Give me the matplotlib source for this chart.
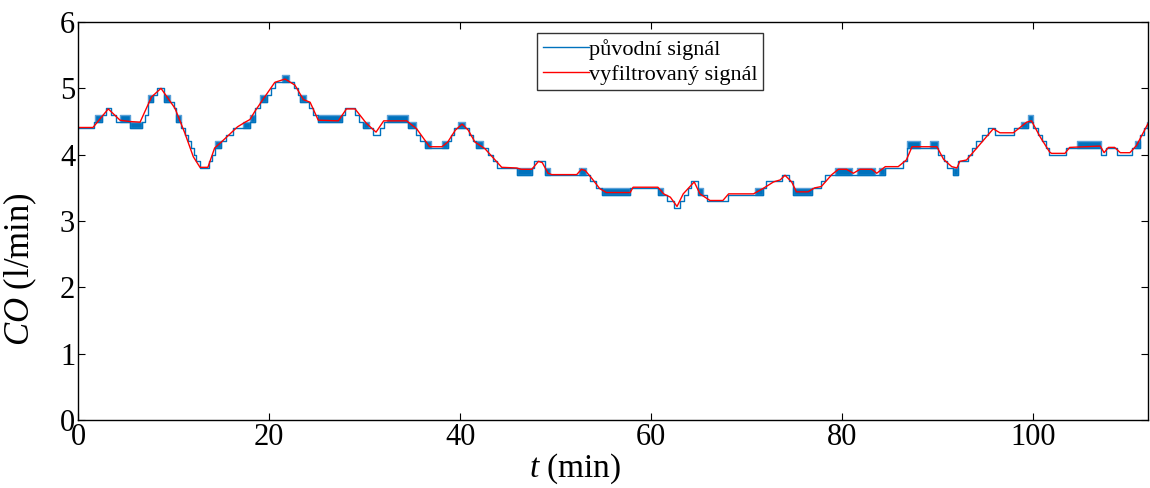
import numpy as np
import matplotlib
matplotlib.use('Agg')
import matplotlib.pyplot as plt

plt.rcParams['font.family'] = ['Liberation Serif', 'DejaVu Serif']
plt.rcParams['mathtext.fontset'] = 'custom'
plt.rcParams['mathtext.it'] = 'Liberation Serif:italic'
plt.rcParams['mathtext.rm'] = 'Liberation Serif'

# original (quantised) signal: segment start time (min) and level (l/min)
blue_t = [0, 1.7, 1.8, 2.5, 2.9, 3.5, 4.0, 4.4, 5.45, 6.67, 7.0, 7.3, 7.9, 8.3,
          9.0, 9.6, 10.0, 10.3, 10.8, 11.2, 11.5, 11.8, 12.1, 12.4, 12.8, 13.7,
          14.0, 14.3, 15.0, 15.5, 16.2, 17.3, 18.0, 18.5, 19.05, 19.75, 20.2,
          20.6, 21.4, 22.1, 22.6, 23.0, 23.2, 23.9, 24.2, 24.6, 25.15, 27.6,
          28.0, 29.0, 29.4, 29.8, 30.5, 30.9, 31.6, 32.0, 32.3, 34.55, 35.4,
          35.8, 36.3, 37.0, 38.1, 38.75, 39.0, 39.4, 39.8, 40.5, 40.9, 41.3,
          41.7, 42.4, 42.9, 43.4, 43.9, 45.9, 47.5, 47.7, 48.9, 49.4, 52.4,
          53.2, 53.6, 54.2, 54.8, 57.8, 60.7, 61.2, 61.6, 62.4, 63.0, 63.4,
          63.8, 64.2, 64.9, 65.4, 65.8, 68.0, 70.9, 71.7, 72.0, 73.7, 74.4,
          74.8, 76.8, 77.8, 78.2, 79.2, 81.0, 81.5, 83.4, 83.8, 84.5, 86.3,
          86.8, 88.1, 89.2, 90.0, 90.6, 91.0, 91.6, 92.15, 93.2, 93.6, 94.0,
          94.6, 95.2, 96.0, 98.0, 98.7, 99.4, 100.0, 100.5, 100.9, 101.3,
          101.6, 103.4, 104.6, 107.1, 107.6, 108.8, 110.3, 110.6, 111.2,
          111.6, 111.9, 112.0]
blue_lvl = [4.4, 4.5, 4.5, 4.6, 4.7, 4.6, 4.5, 4.5, 4.4, 4.5, 4.6, 4.8, 4.9,
            5.0, 4.8, 4.8, 4.7, 4.5, 4.4, 4.3, 4.2, 4.1, 4.0, 3.9, 3.8, 3.9,
            4.0, 4.1, 4.2, 4.3, 4.4, 4.4, 4.5, 4.7, 4.8, 4.9, 5.0, 5.1, 5.1,
            5.1, 5.0, 4.9, 4.8, 4.8, 4.7, 4.6, 4.5, 4.6, 4.7, 4.6, 4.5, 4.4,
            4.4, 4.3, 4.4, 4.5, 4.5, 4.4, 4.3, 4.2, 4.1, 4.1, 4.1, 4.2, 4.3,
            4.4, 4.4, 4.4, 4.3, 4.2, 4.1, 4.1, 4.0, 3.9, 3.8, 3.7, 3.8, 3.9,
            3.7, 3.7, 3.7, 3.7, 3.6, 3.5, 3.4, 3.5, 3.4, 3.4, 3.3, 3.2, 3.3,
            3.4, 3.5, 3.6, 3.4, 3.4, 3.3, 3.4, 3.4, 3.5, 3.6, 3.7, 3.6, 3.4,
            3.5, 3.6, 3.7, 3.7, 3.7, 3.7, 3.7, 3.7, 3.8, 3.9, 4.1, 4.1, 4.1,
            4.0, 3.9, 3.8, 3.7, 3.9, 4.0, 4.1, 4.2, 4.3, 4.4, 4.3, 4.4, 4.4,
            4.5, 4.4, 4.3, 4.2, 4.1, 4.0, 4.1, 4.1, 4.0, 4.1, 4.0, 4.1, 4.1,
            4.3, 4.4, 4.4, 4.4]

# intervals where the signal chatters between two neighbouring levels
chat_t0 = [1.8, 4.4, 5.45, 7.3, 9.0, 10.3, 14.3, 17.3, 18.0, 19.05, 21.4, 23.2,
           25.15, 29.8, 32.3, 34.55, 36.3, 38.1, 39.8, 41.7, 45.9, 48.9, 52.4,
           54.8, 60.7, 64.9, 70.9, 74.8, 79.2, 81.5, 83.8, 86.8, 89.2, 91.6,
           98.7, 99.4, 104.6, 110.6, 111.9]
chat_t1 = [2.5, 5.45, 6.67, 7.9, 9.6, 10.8, 15.0, 18.0, 18.5, 19.75, 22.1, 23.9,
           27.6, 30.5, 34.55, 35.4, 37.0, 38.75, 40.5, 42.4, 47.5, 49.4, 53.2,
           57.8, 61.2, 65.4, 71.7, 76.8, 81.0, 83.4, 84.5, 88.1, 90.0, 92.15,
           99.4, 100.0, 107.1, 111.2, 112.0]
chat_lo = [4.5, 4.5, 4.4, 4.8, 4.8, 4.5, 4.1, 4.4, 4.5, 4.8, 5.1, 4.8, 4.5, 4.4,
           4.5, 4.4, 4.1, 4.1, 4.4, 4.1, 3.7, 3.7, 3.7, 3.4, 3.4, 3.4, 3.4, 3.4,
           3.7, 3.7, 3.7, 4.1, 4.1, 3.7, 4.4, 4.5, 4.1, 4.1, 4.4]
quantum = 0.1

# filtered signal
red_t = [0, 1.57, 3.17, 4.4, 5.4, 6.5, 7.7, 8.69, 10.15, 11.2, 12.07, 12.77,
         13.6, 14.3, 15.0, 16.7, 17.5, 18.0, 18.5, 19.4, 20.6, 21.67, 22.7,
         23.6, 24.3, 25.15, 27.25, 28.1, 29.0, 30.2, 31.2, 32.0, 34.4, 35.45,
         36.8, 38.1, 38.7, 39.5, 40.2, 40.85, 41.55, 42.6, 44.35, 45.9, 46.4,
         47.5, 48.2, 48.6, 49.2, 49.6, 52.2, 52.7, 53.1, 53.8, 54.6, 55.3, 57.8,
         58.1, 60.7, 61.3, 62.0, 62.7, 63.35, 64.5, 65.1, 66.15, 67.5, 68.1,
         70.7, 71.7, 72.8, 73.5, 74.0, 74.7, 75.2, 76.4, 77.1, 77.8, 78.9, 79.6,
         80.45, 81.15, 81.85, 83.1, 83.6, 84.5, 85.85, 86.7, 87.3, 89.9, 90.6,
         91.45, 92.0, 92.3, 93.0, 95.8, 96.5, 97.9, 99.3, 99.8, 100.7, 101.7,
         101.9, 103.3, 103.8, 107.0, 107.4, 107.85, 108.5, 109.1, 110.1, 110.8,
         112.0]
red_y = [4.41, 4.41, 4.69, 4.52, 4.5, 4.49, 4.87, 5.0, 4.7, 4.32, 3.97, 3.81,
         3.81, 4.1, 4.19, 4.42, 4.49, 4.53, 4.65, 4.84, 5.09, 5.14, 5.05, 4.83,
         4.79, 4.52, 4.51, 4.69, 4.69, 4.47, 4.34, 4.51, 4.51, 4.39, 4.12,
         4.12, 4.19, 4.37, 4.46, 4.37, 4.19, 4.09, 3.81, 3.8, 3.78, 3.78, 3.9,
         3.88, 3.72, 3.7, 3.7, 3.78, 3.76, 3.64, 3.49, 3.43, 3.43, 3.51, 3.51,
         3.41, 3.36, 3.22, 3.41, 3.59, 3.41, 3.31, 3.31, 3.41, 3.41, 3.49,
         3.59, 3.62, 3.69, 3.59, 3.44, 3.44, 3.5, 3.52, 3.7, 3.78, 3.78, 3.72,
         3.78, 3.78, 3.72, 3.82, 3.82, 3.92, 4.12, 4.12, 3.93, 3.82, 3.8, 3.9,
         3.92, 4.39, 4.33, 4.33, 4.49, 4.51, 4.27, 4.04, 4.02, 4.02, 4.11,
         4.13, 4.03, 4.11, 4.11, 4.03, 4.03, 4.14, 4.47]

blue = '#0072BD'

fig = plt.figure(figsize=(11.5, 4.88), dpi=100)
ax = fig.add_axes([0.0678, 0.139, 0.9305, 0.816])

ax.step(blue_t, blue_lvl, where='post', color=blue, linewidth=1.0,
        label='původní signál')
for t0, t1, lo in zip(chat_t0, chat_t1, chat_lo):
    ax.fill_between([t0, t1], [lo, lo], [lo + quantum, lo + quantum],
                    color=blue, linewidth=1.0, edgecolor='#5aa0d8')
ax.plot(red_t, red_y, color='red', linewidth=1.0, label='vyfiltrovaný signál')

ax.set_xlim(0, 112)
ax.set_ylim(0, 6)
ax.set_xticks([0, 20, 40, 60, 80, 100])
ax.set_yticks([0, 1, 2, 3, 4, 5, 6])
ax.tick_params(axis='both', direction='in', top=True, right=True,
               labelsize=22, length=5, width=0.8, pad=2)
for s in ax.spines.values():
    s.set_linewidth(1.0)

ax.set_xlabel(r'$t$ (min)', fontsize=24)
ax.set_ylabel(r'$CO$ (l/min)', fontsize=25)
ax.xaxis.set_label_coords(0.465, -0.078)
ax.yaxis.set_label_coords(-0.036, 0.38)

leg = ax.legend(loc='upper left', bbox_to_anchor=(0.429, 0.972), fontsize=16,
                frameon=True, fancybox=False, edgecolor='black',
                handlelength=2.1, handletextpad=0.0, borderpad=0.25,
                labelspacing=0.2, borderaxespad=0)
leg.get_frame().set_linewidth(1.0)

fig.savefig('out.png', dpi=100)
